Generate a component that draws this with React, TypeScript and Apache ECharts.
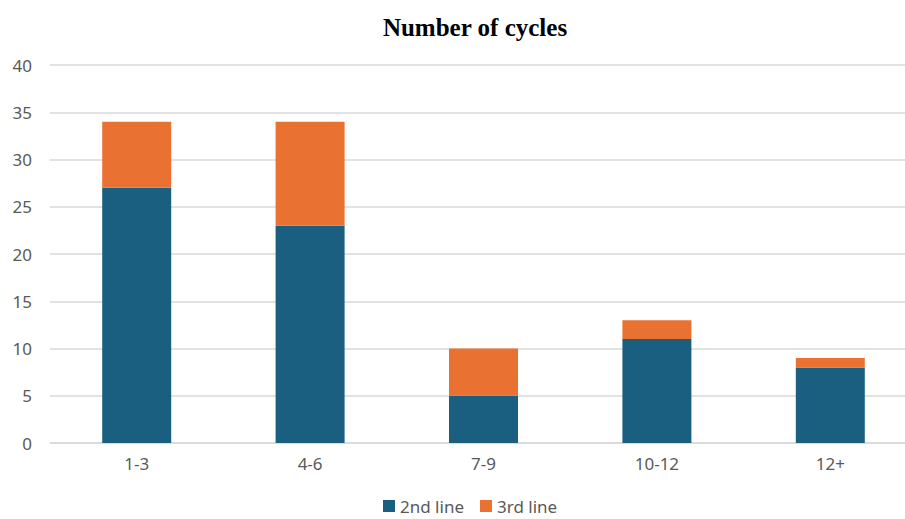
import React, { useEffect, useRef } from "react";
import * as echarts from "echarts";

const categories = ["1-3", "4-6", "7-9", "10-12", "12+"];
const secondLine = [27, 23, 5, 11, 8];
const thirdLine = [7, 11, 5, 2, 1];
const seriesNames = ["2nd line", "3rd line"];
const seriesColors = ["#1A5F80", "#E97132"];

const labelFont = "'Noto Sans', 'Open Sans', sans-serif";

export default function App() {
  const ref = useRef<HTMLDivElement>(null);

  useEffect(() => {
    if (!ref.current) return;
    const chart = echarts.init(ref.current, null, { renderer: "svg" });
    chart.setOption({
      animation: false,
      backgroundColor: "#ffffff",
      title: {
        text: "Number of cycles",
        left: 470,
        textAlign: "center",
        top: 10,
        textStyle: {
          fontFamily: "'Liberation Serif', 'Times New Roman', serif",
          fontWeight: "bold",
          fontSize: 25,
          color: "#000000",
        },
      },
      legend: {
        data: seriesNames,
        left: 383,
        top: 497,
        padding: 0,
        itemWidth: 12,
        itemHeight: 12,
        itemGap: 16,
        icon: "rect",
        textStyle: { fontFamily: labelFont, fontSize: 17, lineHeight: 18, color: "#595959" },
      },
      grid: { left: 50, right: -12, top: 65, bottom: 76, outerBoundsMode: "none" },
      xAxis: {
        type: "category",
        data: categories,
        axisLine: { show: true, lineStyle: { color: "#d9d9d9", width: 1.5 } },
        axisTick: { show: false },
        axisLabel: { fontFamily: labelFont, fontSize: 17, color: "#595959", margin: 12 },
      },
      yAxis: {
        type: "value",
        min: 0,
        max: 40,
        interval: 5,
        axisLine: { show: false },
        axisTick: { show: false },
        splitLine: { lineStyle: { color: "#d9d9d9", width: 1.5 } },
        axisLabel: { fontFamily: labelFont, fontSize: 17, color: "#595959", margin: 18 },
      },
      series: [
        {
          name: seriesNames[0],
          type: "bar",
          stack: "total",
          barWidth: 69,
          data: secondLine,
          itemStyle: { color: seriesColors[0] },
        },
        {
          name: seriesNames[1],
          type: "bar",
          stack: "total",
          barWidth: 69,
          data: thirdLine,
          itemStyle: { color: seriesColors[1] },
        },
      ],
    });
    return () => chart.dispose();
  }, []);

  return (
    <div
      ref={ref}
      style={{ position: "absolute", left: 0, top: 0, width: 905, height: 519 }}
    />
  );
}
